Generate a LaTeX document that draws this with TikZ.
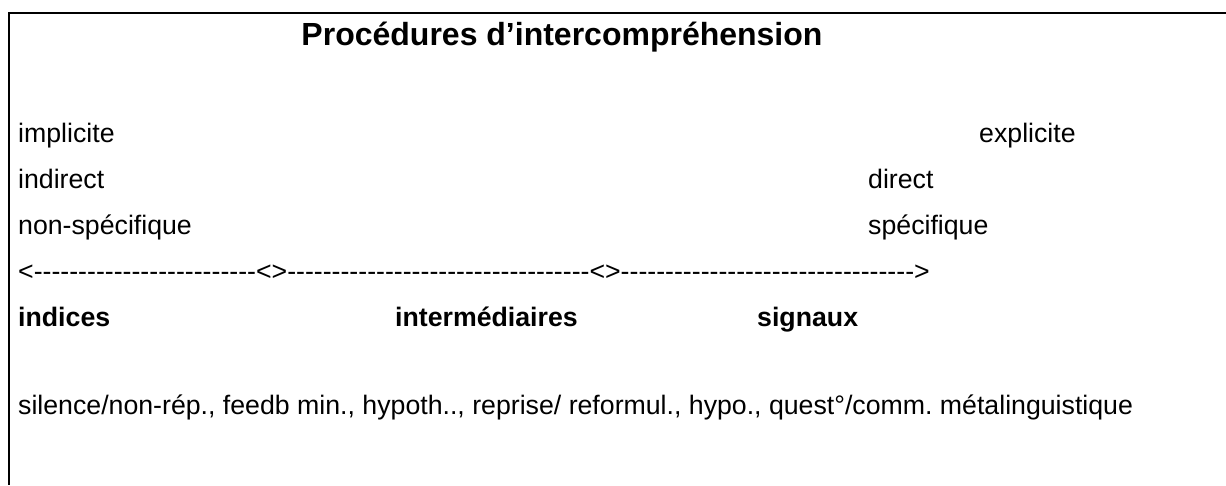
\documentclass[tikz,border=0pt]{standalone}
\usepackage{fontspec}
\setmainfont{Liberation Sans}[Ligatures=TeXOff]
\frenchspacing
\usetikzlibrary{positioning}

\begin{document}
\begin{tikzpicture}[x=1pt,y=-1pt,
  txt/.style={font=\fontsize{26.7}{30}\selectfont, inner sep=0pt, anchor=base west},
  gras/.style={txt, font=\bfseries\fontsize{26.7}{30}\selectfont},
  titre/.style={font=\bfseries\fontsize{32}{36}\selectfont, inner sep=0pt, anchor=base}]

  \useasboundingbox (0,0) rectangle (1226,485);
  \draw[line width=2.6pt] (1226,13) -- (9,13) -- (9,485);

  \node[titre] (titre) at (562,45) {Procédures d’intercompréhension};

  % colonne de gauche
  \node[txt] (implicite) at (18,142) {implicite};
  \node[txt, below=46pt of implicite.base west, anchor=base west] (indirect) {indirect};
  \node[txt, below=46pt of indirect.base west, anchor=base west] (nonspec) {non-spécifique};
  \node[txt, below=46pt of nonspec.base west, anchor=base west] (echelle)
    {<-------------------------<>----------------------------------<>--------------------------------->};

  % colonne de droite
  \node[txt] (explicite) at (979,142) {explicite};
  \node[txt] (direct) at (868,188) {direct};
  \node[txt, below=46pt of direct.base west, anchor=base west] (spec) {spécifique};

  % categories
  \node[gras, below=46pt of echelle.base west, anchor=base west] (indices) {indices};
  \node[gras] (interm) at (395,326) {intermédiaires};
  \node[gras] (signaux) at (757,326) {signaux};

  \node[txt, below=88pt of indices.base west, anchor=base west] (liste)
    {silence/non-rép., feedb min., hypoth.., reprise/ reformul., hypo., quest°/comm. métalinguistique};

\end{tikzpicture}
\end{document}
